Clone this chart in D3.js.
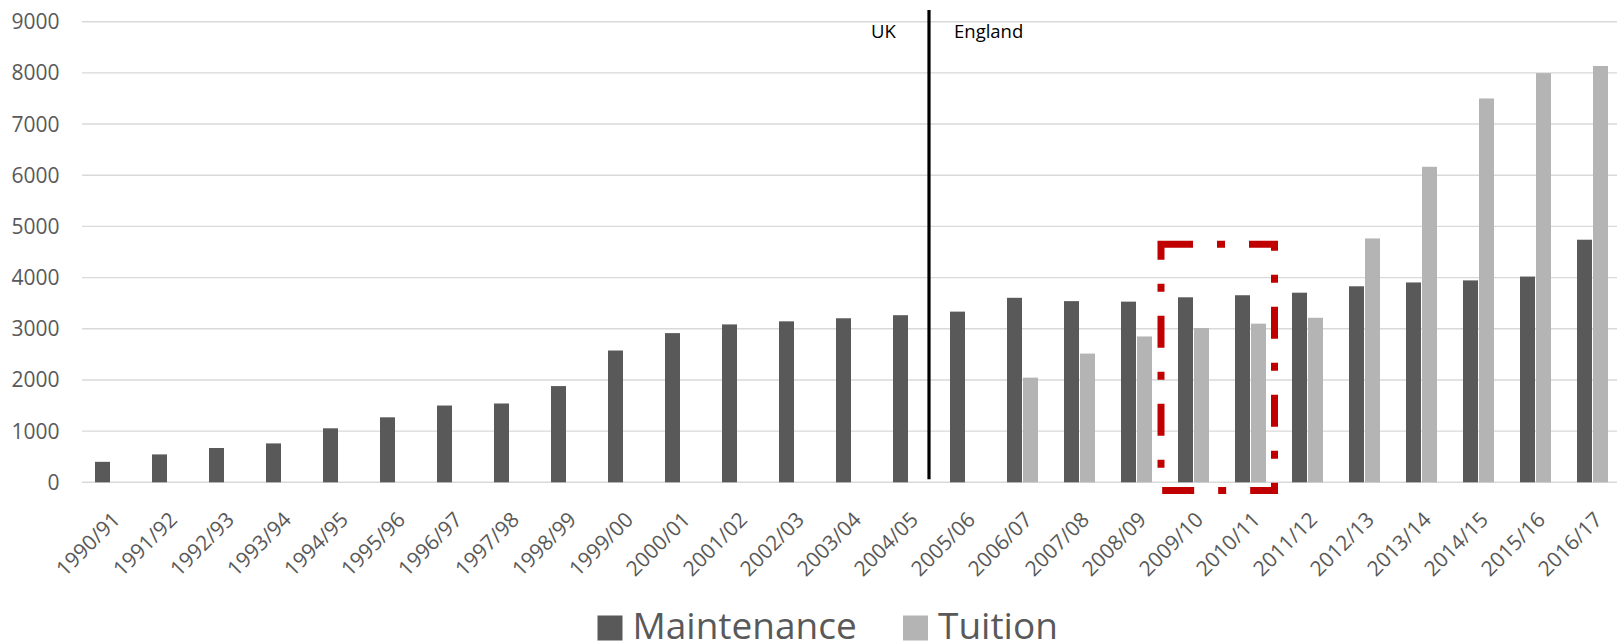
<!DOCTYPE html>
<html>
<head>
<meta charset="utf-8">
<script src="https://cdn.jsdelivr.net/npm/d3@7"></script>
<style>
  html, body { margin: 0; padding: 0; background: #ffffff; }
  svg { display: block; font-family: "Open Sans", "Liberation Sans", sans-serif; }
</style>
</head>
<body>
<svg id="chart" width="1617" height="644"></svg>
<script>
const categories = ["1990/91","1991/92","1992/93","1993/94","1994/95","1995/96","1996/97","1997/98","1998/99","1999/00","2000/01","2001/02","2002/03","2003/04","2004/05","2005/06","2006/07","2007/08","2008/09","2009/10","2010/11","2011/12","2012/13","2013/14","2014/15","2015/16","2016/17"];
const maintenance = [400, 545, 670, 760, 1055, 1270, 1500, 1540, 1880, 2575, 2915, 3085, 3145, 3205, 3265, 3335, 3605, 3540, 3530, 3615, 3655, 3705, 3830, 3905, 3945, 4020, 4740];
const tuition = [null, null, null, null, null, null, null, null, null, null, null, null, null, null, null, null, 2045, 2515, 2850, 3015, 3100, 3215, 4765, 6165, 7500, 7995, 8135];
const seriesNames = ["Maintenance", "Tuition"];
const seriesColors = ["#595959", "#b4b4b4"];
const yTicks = [0, 1000, 2000, 3000, 4000, 5000, 6000, 7000, 8000, 9000];
const regionLabels = ["UK", "England"];

const svg = d3.select("#chart");
const left = 82, step = 57;
const x = d3.scaleBand().domain(categories).range([left, left + step * categories.length]).paddingInner(0).paddingOuter(0);
const x1 = d3.scaleBand().domain(seriesNames).range([0, x.bandwidth()]).paddingInner(0.0625).paddingOuter(0.8125);
const y = d3.scaleLinear().domain([0, 9000]).range([482.3, 21.7]);

// gridlines
svg.append("g").selectAll("line").data(yTicks).join("line")
  .attr("x1", left).attr("x2", 1617)
  .attr("y1", d => y(d)).attr("y2", d => y(d))
  .attr("stroke", "#d9d9d9").attr("stroke-width", 1.4);

// y tick labels
svg.append("g").selectAll("text").data(yTicks).join("text")
  .attr("x", 59.5).attr("y", d => y(d) + 7.5)
  .attr("text-anchor", "end")
  .attr("font-size", 21).attr("fill", "#595959")
  .text(d => d);

// bars
const rows = categories.map((c, i) => ({cat: c, vals: [maintenance[i], tuition[i]]}));
const groups = svg.append("g").selectAll("g").data(rows).join("g")
  .attr("transform", d => `translate(${x(d.cat)},0)`);
groups.selectAll("rect")
  .data(d => seriesNames.map((s, j) => ({s, j, v: d.vals[j]})).filter(e => e.v != null))
  .join("rect")
  .attr("x", e => x1(e.s))
  .attr("width", x1.bandwidth())
  .attr("y", e => y(e.v))
  .attr("height", e => y(0) - y(e.v))
  .attr("fill", e => seriesColors[e.j]);

// x labels
svg.append("g").selectAll("text").data(categories).join("text")
  .attr("transform", d => `translate(${x(d) + x.bandwidth() / 2 + 11},${521}) rotate(-45)`)
  .attr("text-anchor", "end")
  .attr("font-size", 21).attr("fill", "#595959")
  .text(d => d);

// UK / England divider
const divX = x("2005/06") - 8;
svg.append("line")
  .attr("x1", divX).attr("x2", divX)
  .attr("y1", y(9230)).attr("y2", y(60))
  .attr("stroke", "#000").attr("stroke-width", 3.2);
svg.append("text").attr("x", divX - 58).attr("y", 38)
  .attr("font-size", 18.5).attr("fill", "#000").text(regionLabels[0]);
svg.append("text").attr("x", divX + 25).attr("y", 38)
  .attr("font-size", 18.5).attr("fill", "#000").text(regionLabels[1]);

// red dashed highlight box around 2009/10 - 2010/11
const bx0 = x("2009/10") - 4;
const bx1 = x("2010/11") + x.bandwidth() - 4.5;
const by0 = y(4650), by1 = y(-160);
svg.append("rect")
  .attr("x", bx0).attr("y", by0)
  .attr("width", bx1 - bx0).attr("height", by1 - by0)
  .attr("fill", "none").attr("stroke", "#c00000").attr("stroke-width", 7)
  .attr("stroke-dasharray", "32 24 8 24");

// legend
const legend = svg.append("g");
const legendItems = [{name: seriesNames[0], color: seriesColors[0], x: 597.5}, {name: seriesNames[1], color: seriesColors[1], x: 903}];
legend.selectAll("rect").data(legendItems).join("rect")
  .attr("x", d => d.x).attr("y", 615.5).attr("width", 25).attr("height", 25)
  .attr("fill", d => d.color);
legend.selectAll("text").data(legendItems).join("text")
  .attr("x", d => d.x + 35).attr("y", 639)
  .attr("font-size", 37).attr("fill", "#595959")
  .text(d => d.name);
</script>
</body>
</html>
